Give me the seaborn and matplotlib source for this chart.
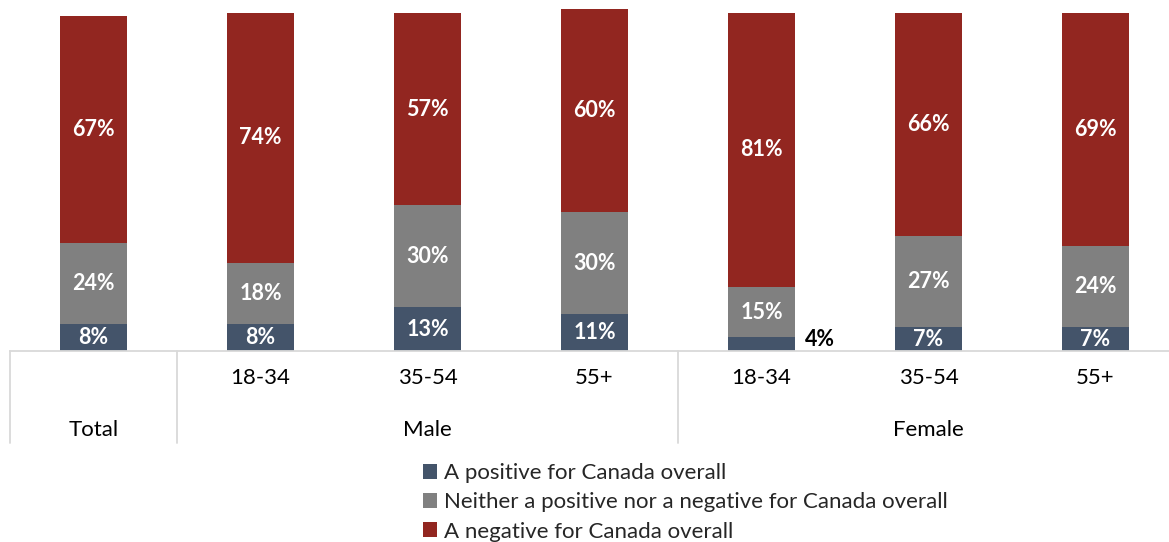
import numpy as np
import pandas as pd
import matplotlib
matplotlib.use("Agg")
import matplotlib.pyplot as plt
import matplotlib.transforms as mtransforms
from matplotlib.patches import Patch
import seaborn as sns

# ---- data ----
groups = ["Total", "Male", "Male", "Male", "Female", "Female", "Female"]
ages = ["", "18-34", "35-54", "55+", "18-34", "35-54", "55+"]
positive = [8, 8, 13, 11, 4, 7, 7]
neither = [24, 18, 30, 30, 15, 27, 24]
negative = [67, 74, 57, 60, 81, 66, 69]
series_names = ["A positive for Canada overall",
                "Neither a positive nor a negative for Canada overall",
                "A negative for Canada overall"]
colors = ["#44546A", "#808080", "#922620"]

sns.set_theme(style="white")
plt.rcParams["font.family"] = ["Lato", "DejaVu Sans"]

keys = [f"{g} {a}".strip() for g, a in zip(groups, ages)]
df = pd.DataFrame({"key": keys, "pos": positive, "neu": neither, "neg": negative})
df["c1"] = df["pos"]
df["c2"] = df["pos"] + df["neu"]
df["c3"] = df["pos"] + df["neu"] + df["neg"]

fig = plt.figure(figsize=(11.69, 5.42), dpi=100)
ax = fig.add_axes([10 / 1169, 1 - 351 / 542, 1 - 10 / 1169, 352 / 542])

for col, c in zip(["c3", "c2", "c1"], colors[::-1]):
    sns.barplot(data=df, x="key", y=col, order=keys, color=c, width=0.4,
                saturation=1, ax=ax, edgecolor="none")

ax.set_xlim(-0.5, 6.44)
ax.set_ylim(0, 104)
ax.set_xlabel("")
ax.set_ylabel("")
ax.set_xticks([])
ax.set_yticks([])
for s in ["top", "left", "right"]:
    ax.spines[s].set_visible(False)
ax.spines["bottom"].set_color("#D9D9D9")
ax.spines["bottom"].set_linewidth(1.3)

fs_lab = 15.5
fs = 16
# segment labels
for i in range(len(keys)):
    p, n, g = positive[i], neither[i], negative[i]
    if p >= 5:
        ax.text(i, p / 2, f"{p}%", ha="center", va="center", color="white",
                fontsize=fs_lab, fontweight="bold")
    else:
        ax.text(i + 0.35, p / 2 + 1.5, f"{p}%", ha="center", va="center",
                color="black", fontsize=fs_lab, fontweight="bold")
    ax.text(i, p + n / 2, f"{n}%", ha="center", va="center", color="white",
            fontsize=fs_lab, fontweight="bold")
    ax.text(i, p + n + g / 2, f"{g}%", ha="center", va="center", color="white",
            fontsize=fs_lab, fontweight="bold")

# category axis (two levels)
trans = mtransforms.blended_transform_factory(ax.transData, ax.transAxes)
for xs in [-0.5, 0.5, 3.5]:
    ax.plot([xs, xs], [0, -0.262], color="#D9D9D9", lw=1.3, transform=trans,
            clip_on=False)
for i, a in enumerate(ages):
    if a:
        ax.text(i, -0.077, a, ha="center", va="center", fontsize=fs,
                color="black", transform=trans)
for label, pos in [("Total", 0), ("Male", 2), ("Female", 5)]:
    ax.text(pos, -0.224, label, ha="center", va="center", fontsize=fs,
            color="black", transform=trans)

handles = [Patch(facecolor=c, edgecolor="none") for c in colors]
fig.legend(handles, series_names, loc="upper left",
           bbox_to_anchor=(423 / 1169, 1 - 463 / 542), frameon=False,
           fontsize=fs, handlelength=0.65, handleheight=0.65,
           handletextpad=0.3, labelspacing=0.42, borderaxespad=0,
           borderpad=0)

fig.savefig("out.png", dpi=100)
